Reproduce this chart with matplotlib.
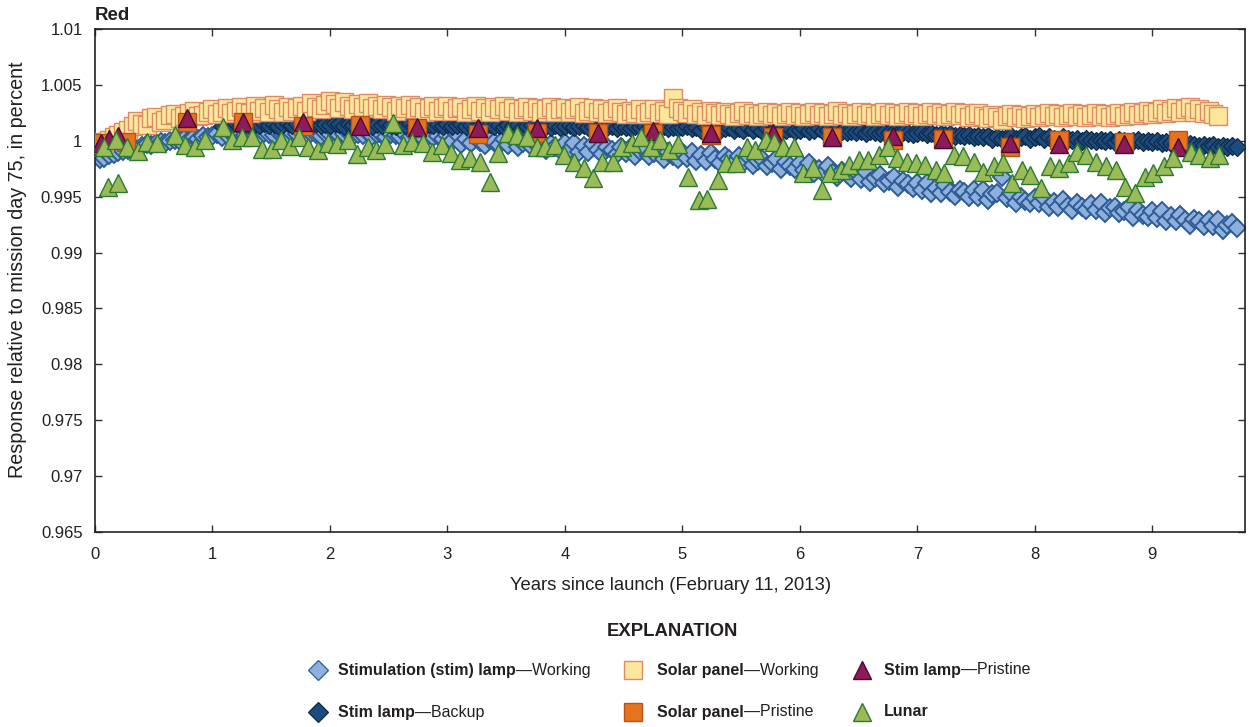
import matplotlib
matplotlib.use("Agg")
import matplotlib.pyplot as plt
from matplotlib.ticker import FixedLocator, FuncFormatter

FAM = ['Liberation Sans', 'DejaVu Sans']
plt.rcParams['font.family'] = FAM
TXT = '#231f20'

# ---------------- data ----------------
dense_years = [
    0.04, 0.08, 0.12, 0.16, 0.20, 0.24, 0.28, 0.32, 0.36, 0.40, 0.44, 0.48,
    0.52, 0.56, 0.60, 0.64, 0.68, 0.72, 0.76, 0.80, 0.84, 0.88, 0.92, 0.96,
    1.00, 1.04, 1.08, 1.12, 1.16, 1.20, 1.24, 1.28, 1.32, 1.36, 1.40, 1.44, 1.48,
    1.52, 1.56, 1.60, 1.64, 1.68, 1.72, 1.76, 1.80, 1.84, 1.88, 1.92, 1.96,
    2.00, 2.04, 2.08, 2.12, 2.16, 2.20, 2.24, 2.28, 2.32, 2.36, 2.40, 2.44, 2.48,
    2.52, 2.56, 2.60, 2.64, 2.68, 2.72, 2.76, 2.80, 2.84, 2.88, 2.92, 2.96,
    3.00, 3.04, 3.08, 3.12, 3.16, 3.20, 3.24, 3.28, 3.32, 3.36, 3.40, 3.44, 3.48,
    3.52, 3.56, 3.60, 3.64, 3.68, 3.72, 3.76, 3.80, 3.84, 3.88, 3.92, 3.96,
    4.00, 4.04, 4.08, 4.12, 4.16, 4.20, 4.24, 4.28, 4.32, 4.36, 4.40, 4.44, 4.48,
    4.52, 4.56, 4.60, 4.64, 4.68, 4.72, 4.76, 4.80, 4.84, 4.88, 4.92, 4.96,
    5.00, 5.04, 5.08, 5.12, 5.16, 5.20, 5.24, 5.28, 5.32, 5.36, 5.40, 5.44, 5.48,
    5.52, 5.56, 5.60, 5.64, 5.68, 5.72, 5.76, 5.80, 5.84, 5.88, 5.92, 5.96,
    6.00, 6.04, 6.08, 6.12, 6.16, 6.20, 6.24, 6.28, 6.32, 6.36, 6.40, 6.44, 6.48,
    6.52, 6.56, 6.60, 6.64, 6.68, 6.72, 6.76, 6.80, 6.84, 6.88, 6.92, 6.96,
    7.00, 7.04, 7.08, 7.12, 7.16, 7.20, 7.24, 7.28, 7.32, 7.36, 7.40, 7.44, 7.48,
    7.52, 7.56, 7.60, 7.64, 7.68, 7.72, 7.76, 7.80, 7.84, 7.88, 7.92, 7.96,
    8.00, 8.04, 8.08, 8.12, 8.16, 8.20, 8.24, 8.28, 8.32, 8.36, 8.40, 8.44, 8.48,
    8.52, 8.56, 8.60, 8.64, 8.68, 8.72, 8.76, 8.80, 8.84, 8.88, 8.92, 8.96,
    9.00, 9.04, 9.08, 9.12, 9.16, 9.20, 9.24, 9.28, 9.32, 9.36, 9.40, 9.44, 9.48,
    9.52, 9.56, 9.60, 9.64, 9.68, 9.72,
]

stim_working = [
    0.9984, 0.9985, 0.9987, 0.9988, 0.9990, 0.9991, 0.9992, 0.9994, 0.9993, 0.9995, 0.9997, 0.9996,
    0.9998, 0.9999, 0.9998, 1.0000, 1.0001, 1.0000, 1.0002, 1.0001, 1.0003, 1.0002, 1.0004, 1.0003,
    1.0004, 1.0006, 1.0003, 1.0005, 1.0007, 1.0004, 1.0006, 1.0005, 1.0008, 1.0005, 1.0004, 1.0007, 1.0006,
    1.0005, 1.0008, 1.0006, 1.0004, 1.0007, 1.0006, 1.0008, 1.0005, 1.0007, 1.0006, 1.0004, 1.0007,
    1.0006, 1.0008, 1.0005, 1.0006, 1.0007, 1.0004, 1.0006, 1.0005, 1.0007, 1.0004, 1.0006, 1.0005, 1.0003,
    1.0006, 1.0005, 1.0004, 1.0006, 1.0003, 1.0005, 1.0004, 1.0002, 1.0005, 1.0003, 1.0004, 1.0002,
    1.0005, 1.0000, 1.0006, 0.9997, 1.0002, 0.9998, 1.0004, 0.9999, 0.9996, 1.0001, 0.9999, 0.9996, 1.0002,
    0.9996, 1.0002, 0.9994, 0.9998, 1.0000, 0.9994, 0.9996, 1.0000, 0.9992, 0.9997, 0.9994, 0.9992,
    0.9998, 0.9993, 0.9998, 0.9990, 0.9995, 0.9990, 0.9997, 0.9992, 0.9988, 0.9994, 0.9992, 0.9988, 0.9994,
    0.9989, 0.9994, 0.9986, 0.9991, 0.9992, 0.9986, 0.9989, 0.9992, 0.9984, 0.9990, 0.9986, 0.9984,
    0.9990, 0.9985, 0.9990, 0.9982, 0.9987, 0.9982, 0.9989, 0.9984, 0.9980, 0.9986, 0.9984, 0.9980, 0.9986,
    0.9980, 0.9986, 0.9978, 0.9982, 0.9984, 0.9977, 0.9980, 0.9984, 0.9975, 0.9981, 0.9977, 0.9975,
    0.9980, 0.9974, 0.9980, 0.9971, 0.9975, 0.9971, 0.9977, 0.9971, 0.9968, 0.9973, 0.9970, 0.9967, 0.9972,
    0.9966, 0.9972, 0.9963, 0.9967, 0.9969, 0.9962, 0.9964, 0.9968, 0.9959, 0.9964, 0.9961, 0.9958,
    0.9962, 0.9956, 0.9962, 0.9953, 0.9958, 0.9953, 0.9960, 0.9954, 0.9951, 0.9956, 0.9954, 0.9950, 0.9956,
    0.9950, 0.9956, 0.9947, 0.9952, 0.9953, 0.9968, 0.9949, 0.9953, 0.9944, 0.9950, 0.9946, 0.9944,
    0.9949, 0.9944, 0.9949, 0.9941, 0.9945, 0.9941, 0.9947, 0.9942, 0.9938, 0.9944, 0.9941, 0.9938, 0.9943,
    0.9938, 0.9944, 0.9935, 0.9940, 0.9941, 0.9935, 0.9937, 0.9941, 0.9932, 0.9938, 0.9934, 0.9932,
    0.9937, 0.9931, 0.9937, 0.9928, 0.9933, 0.9928, 0.9934, 0.9929, 0.9925, 0.9930, 0.9928, 0.9924, 0.9929,
    0.9924, 0.9929, 0.9920, 0.9925, 0.9926, 0.9922,
]

# backup lamp starts at 1.08 years (index 26 of dense_years)
stim_backup = [
    1.0013, 1.0015, 1.0014, 1.0016, 1.0014, 1.0015, 1.0013, 1.0015, 1.0014, 1.0016, 1.0014,
    1.0015, 1.0013, 1.0015, 1.0016, 1.0014, 1.0015, 1.0013, 1.0015, 1.0014, 1.0016, 1.0014, 1.0015,
    1.0014, 1.0016, 1.0015, 1.0013, 1.0015, 1.0014, 1.0016, 1.0014, 1.0015, 1.0013, 1.0015, 1.0014, 1.0016,
    1.0014, 1.0013, 1.0015, 1.0014, 1.0016, 1.0014, 1.0015, 1.0013, 1.0015, 1.0014, 1.0015, 1.0013,
    1.0015, 1.0013, 1.0014, 1.0015, 1.0013, 1.0014, 1.0012, 1.0014, 1.0013, 1.0015, 1.0013, 1.0014, 1.0012,
    1.0014, 1.0013, 1.0014, 1.0012, 1.0013, 1.0014, 1.0012, 1.0014, 1.0013, 1.0012, 1.0014, 1.0012,
    1.0013, 1.0014, 1.0012, 1.0013, 1.0014, 1.0012, 1.0013, 1.0011, 1.0013, 1.0012, 1.0013, 1.0011, 1.0013,
    1.0012, 1.0011, 1.0013, 1.0012, 1.0013, 1.0011, 1.0012, 1.0011, 1.0013, 1.0011, 1.0012, 1.0011,
    1.0012, 1.0013, 1.0011, 1.0012, 1.0010, 1.0012, 1.0011, 1.0012, 1.0010, 1.0011, 1.0012, 1.0010, 1.0011,
    1.0010, 1.0012, 1.0010, 1.0011, 1.0009, 1.0011, 1.0010, 1.0011, 1.0009, 1.0010, 1.0011, 1.0009,
    1.0010, 1.0011, 1.0009, 1.0010, 1.0011, 1.0009, 1.0010, 1.0008, 1.0010, 1.0009, 1.0008, 1.0009, 1.0008,
    1.0009, 1.0007, 1.0009, 1.0008, 1.0007, 1.0008, 1.0007, 1.0008, 1.0006, 1.0008, 1.0007, 1.0006,
    1.0007, 1.0008, 1.0006, 1.0007, 1.0005, 1.0006, 1.0005, 1.0006, 1.0004, 1.0005, 1.0004, 1.0005, 1.0003,
    1.0004, 1.0003, 1.0004, 1.0002, 1.0003, 1.0002, 1.0003, 1.0004, 1.0002, 1.0003, 1.0004, 1.0002,
    1.0003, 1.0004, 1.0002, 1.0003, 1.0002, 1.0001, 1.0003, 1.0002, 1.0001, 1.0002, 1.0000, 1.0002, 1.0001,
    1.0000, 1.0001, 1.0000, 1.0001, 0.9999, 1.0001, 1.0000, 0.9999, 1.0000, 1.0001, 0.9999, 1.0000,
    0.9999, 1.0000, 0.9998, 0.9999, 0.9998, 0.9997, 0.9998, 0.9996, 0.9997, 0.9996, 0.9995, 0.9996, 0.9995,
    0.9996, 0.9994, 0.9995, 0.9994, 0.9995, 0.9994,
]

# solar panel working ends at 9.56 years
solar_working = [
    0.9997, 0.9999, 1.0001, 1.0003, 1.0005, 1.0008, 1.0010, 1.0013, 1.0018, 1.0015, 1.0014, 1.0020,
    1.0021, 1.0017, 1.0019, 1.0023, 1.0024, 1.0020, 1.0022, 1.0025, 1.0027, 1.0022, 1.0023, 1.0026,
    1.0028, 1.0024, 1.0026, 1.0029, 1.0025, 1.0027, 1.0030, 1.0026, 1.0025, 1.0031, 1.0027, 1.0029, 1.0026,
    1.0032, 1.0028, 1.0026, 1.0030, 1.0027, 1.0029, 1.0031, 1.0027, 1.0034, 1.0030, 1.0028, 1.0032,
    1.0036, 1.0033, 1.0029, 1.0035, 1.0031, 1.0028, 1.0033, 1.0030, 1.0034, 1.0029, 1.0031, 1.0028, 1.0032,
    1.0030, 1.0027, 1.0031, 1.0029, 1.0032, 1.0028, 1.0030, 1.0026, 1.0029, 1.0031, 1.0027, 1.0029,
    1.0031, 1.0027, 1.0029, 1.0030, 1.0026, 1.0028, 1.0031, 1.0027, 1.0029, 1.0026, 1.0030, 1.0028, 1.0031,
    1.0027, 1.0029, 1.0026, 1.0028, 1.0030, 1.0027, 1.0029, 1.0026, 1.0028, 1.0030, 1.0026, 1.0028,
    1.0029, 1.0026, 1.0028, 1.0030, 1.0025, 1.0027, 1.0029, 1.0026, 1.0028, 1.0025, 1.0027, 1.0029, 1.0026,
    1.0024, 1.0027, 1.0025, 1.0028, 1.0024, 1.0026, 1.0028, 1.0025, 1.0027, 1.0024, 1.0038, 1.0029,
    1.0027, 1.0025, 1.0028, 1.0024, 1.0026, 1.0023, 1.0027, 1.0025, 1.0023, 1.0026, 1.0024, 1.0022, 1.0025,
    1.0027, 1.0023, 1.0025, 1.0022, 1.0024, 1.0026, 1.0023, 1.0025, 1.0022, 1.0024, 1.0026, 1.0023,
    1.0025, 1.0022, 1.0024, 1.0026, 1.0023, 1.0025, 1.0022, 1.0024, 1.0027, 1.0023, 1.0025, 1.0022, 1.0024,
    1.0026, 1.0023, 1.0025, 1.0022, 1.0024, 1.0026, 1.0023, 1.0025, 1.0022, 1.0024, 1.0026, 1.0023,
    1.0025, 1.0022, 1.0024, 1.0026, 1.0023, 1.0025, 1.0022, 1.0024, 1.0026, 1.0023, 1.0025, 1.0021, 1.0023,
    1.0025, 1.0022, 1.0020, 1.0023, 1.0021, 1.0019, 1.0022, 1.0024, 1.0021, 1.0023, 1.0020, 1.0022,
    1.0024, 1.0021, 1.0023, 1.0025, 1.0022, 1.0024, 1.0021, 1.0023, 1.0025, 1.0022, 1.0024, 1.0021, 1.0023,
    1.0025, 1.0022, 1.0024, 1.0021, 1.0023, 1.0025, 1.0022, 1.0024, 1.0026, 1.0023, 1.0025, 1.0027,
    1.0024, 1.0026, 1.0028, 1.0025, 1.0027, 1.0029, 1.0026, 1.0028, 1.0030, 1.0026, 1.0028, 1.0025, 1.0027,
    1.0024, 1.0022,
]

solar_pristine_years = [0.05, 0.26, 0.78, 1.26, 1.77, 2.26, 2.74, 3.26, 3.76, 4.28,
                        4.75, 5.24, 5.77, 6.27, 6.79, 7.22, 7.79, 8.21, 8.76, 9.22]
solar_pristine = [0.9998, 0.9999, 1.0017, 1.0017, 1.0013, 1.0014, 1.0011, 1.0006, 1.0007, 1.0007,
                  1.0007, 1.0005, 1.0003, 1.0003, 1.0001, 1.0002, 0.9994, 1.0001, 0.9999, 1.0001]

stim_pristine_years = [0.05, 0.12, 0.20, 0.78, 1.26, 1.77, 2.26, 2.74, 3.26, 3.76, 4.28,
                       4.75, 5.24, 5.77, 6.27, 6.79, 7.22, 7.79, 8.21, 8.76, 9.22]
stim_pristine = [0.9998, 1.0002, 1.0004, 1.0020, 1.0017, 1.0017, 1.0013, 1.0012, 1.0011, 1.0011, 1.0007,
                 1.0009, 1.0007, 1.0007, 1.0003, 1.0004, 1.0002, 0.9998, 0.9997, 0.9997, 0.9994]

lunar_years = [
    0.11, 0.20, 0.08, 0.18, 0.27, 0.37, 0.44, 0.53, 0.68, 0.77, 0.85, 0.94,
    1.09, 1.17, 1.25, 1.34, 1.42, 1.51, 1.58, 1.66, 1.74, 1.81, 1.90, 1.98,
    2.06, 2.15, 2.23, 2.32, 2.39, 2.47, 2.54, 2.62, 2.70, 2.79, 2.87, 2.95,
    3.03, 3.11, 3.19, 3.28, 3.36, 3.43, 3.52, 3.59, 3.68, 3.76, 3.83, 3.92, 3.99,
    4.08, 4.16, 4.24, 4.32, 4.41, 4.49, 4.57, 4.65, 4.73, 4.81, 4.89, 4.96,
    5.05, 5.14, 5.21, 5.30, 5.37, 5.46, 5.55, 5.62, 5.71, 5.78, 5.86, 5.95,
    6.03, 6.11, 6.19, 6.26, 6.35, 6.42, 6.50, 6.58, 6.67, 6.75, 6.83, 6.91, 6.99,
    7.07, 7.16, 7.23, 7.31, 7.39, 7.48, 7.56, 7.65, 7.73, 7.81, 7.89, 7.96,
    8.05, 8.13, 8.21, 8.29, 8.36, 8.44, 8.52, 8.61, 8.69, 8.77, 8.85, 8.94,
    9.01, 9.10, 9.18, 9.33, 9.40, 9.49, 9.57,
]
lunar = [
    0.9959, 0.9962, 0.9994, 1.0001, 0.9994, 0.9991, 0.9999, 0.9998, 1.0005, 0.9996, 0.9994, 1.0001,
    1.0012, 1.0001, 1.0003, 1.0003, 0.9993, 0.9993, 1.0001, 0.9995, 1.0003, 0.9994, 0.9992, 0.9998,
    0.9997, 1.0001, 0.9988, 0.9994, 0.9992, 0.9997, 1.0016, 0.9996, 0.9999, 0.9998, 0.9990, 0.9996,
    0.9989, 0.9983, 0.9985, 0.9981, 0.9963, 0.9989, 1.0007, 1.0005, 1.0003, 0.9994, 0.9994, 0.9996, 0.9987,
    0.9981, 0.9976, 0.9967, 0.9981, 0.9981, 0.9994, 0.9998, 1.0003, 0.9994, 1.0001, 0.9992, 0.9997,
    0.9968, 0.9947, 0.9948, 0.9965, 0.9980, 0.9980, 0.9994, 0.9992, 1.0001, 0.9999, 0.9994, 0.9994,
    0.9971, 0.9976, 0.9956, 0.9971, 0.9974, 0.9978, 0.9983, 0.9983, 0.9987, 0.9994, 0.9985, 0.9981, 0.9980,
    0.9978, 0.9974, 0.9971, 0.9987, 0.9986, 0.9981, 0.9972, 0.9977, 0.9980, 0.9962, 0.9974, 0.9969,
    0.9958, 0.9977, 0.9976, 0.9980, 0.9990, 0.9987, 0.9981, 0.9977, 0.9974, 0.9959, 0.9953, 0.9968,
    0.9971, 0.9977, 0.9985, 0.9990, 0.9987, 0.9985, 0.9987,
]

ytick_values = [0.965, 0.97, 0.975, 0.98, 0.985, 0.99, 0.995, 1.0, 1.005, 1.01]
xtick_values = [0, 1, 2, 3, 4, 5, 6, 7, 8, 9]

# ---------------- styles ----------------
S_WORK = dict(marker='D', ms=9.5, mfc='#8fb0dc', mec='#2d5c96', mew=1.4, ls='none')
S_BACK = dict(marker='D', ms=9.5, mfc='#1d4b7d', mec='#0c2946', mew=0.9, ls='none')
S_SOLW = dict(marker='s', ms=13, mfc='#fbe89c', mec='#de8a66', mew=1.0, ls='none')
S_SOLP = dict(marker='s', ms=13, mfc='#e8731f', mec='#b5521a', mew=1.0, ls='none')
S_STIP = dict(marker='^', ms=13, mfc='#8d1b5b', mec='#4a0c2c', mew=1.0, ls='none')
S_LUN = dict(marker='^', ms=13, mfc='#9bbb59', mec='#2a7a32', mew=1.0, ls='none')

W, H = 1249, 727
fig = plt.figure(figsize=(W / 100, H / 100), dpi=100)
ax = fig.add_axes([95 / W, 1 - 532 / H, (1245 - 95) / W, (532 - 29) / H])

ax.plot(dense_years[:len(stim_working)], stim_working, zorder=2, **S_WORK)
ax.plot(dense_years[26:26 + len(stim_backup)], stim_backup, zorder=3, **S_BACK)
ax.plot(dense_years[:len(solar_working)], solar_working, zorder=4, **S_SOLW)
ax.plot(solar_pristine_years, solar_pristine, zorder=5, **S_SOLP)
ax.plot(stim_pristine_years, stim_pristine, zorder=6, **S_STIP)
ax.plot(lunar_years, lunar, zorder=7, **S_LUN)

ax.set_xlim(0, 9.79)
ax.set_ylim(0.965, 1.01)
ax.xaxis.set_major_locator(FixedLocator(xtick_values))
ax.yaxis.set_major_locator(FixedLocator(ytick_values))
ax.yaxis.set_major_formatter(FuncFormatter(lambda v, p: '{:g}'.format(round(v, 4))))
ax.tick_params(direction='in', top=True, right=True, length=5, width=1.0,
               labelsize=12, colors='#333333', labelcolor=TXT)
ax.tick_params(axis='x', pad=11)
ax.tick_params(axis='y', pad=9)
for s in ax.spines.values():
    s.set_linewidth(1.2)
    s.set_color('#222222')

# overlay for text and legend in pixel units
lax = fig.add_axes([0, 0, 1, 1], zorder=10)
lax.set_xlim(0, W)
lax.set_ylim(H, 0)
lax.axis('off')

lax.text(95, 16, 'Red', fontsize=13.5, fontweight='bold', color=TXT, ha='left', va='center')
lax.text(671, 585, 'Years since launch (February 11, 2013)', fontsize=13.3, color=TXT,
         ha='center', va='center')
lax.text(18, 270, 'Response relative to mission day 75, in percent', fontsize=14.2, color=TXT,
         ha='center', va='center', rotation=90)
lax.text(672, 632, 'EXPLANATION', fontsize=13.3, fontweight='bold', color=TXT,
         ha='center', va='center')

legend_items = [
    (318, 338, 670, S_WORK, 'Stimulation (stim) lamp', '\u2014Working'),
    (318, 338, 712, S_BACK, 'Stim lamp', '\u2014Backup'),
    (633, 657, 670, S_SOLW, 'Solar panel', '\u2014Working'),
    (633, 657, 712, S_SOLP, 'Solar panel', '\u2014Pristine'),
    (862, 884, 670, S_STIP, 'Stim lamp', '\u2014Pristine'),
    (862, 884, 712, S_LUN, 'Lunar', ''),
]
fig.canvas.draw()
renderer = fig.canvas.get_renderer()
for (mx, tx, my, st, bold, reg) in legend_items:
    st2 = dict(st)
    if st2['marker'] == 'D':
        st2['ms'] = 10
        st2['mew'] = 0.9
    lax.plot([mx], [my], **st2)
    tb = lax.text(tx, my, bold, fontsize=11.5, fontweight='bold', color=TXT,
                  ha='left', va='center')
    if reg:
        bb = tb.get_window_extent(renderer)
        lax.text(tx + bb.width, my, reg, fontsize=11.5, color=TXT, ha='left', va='center')

fig.savefig('out.png', dpi=100)
